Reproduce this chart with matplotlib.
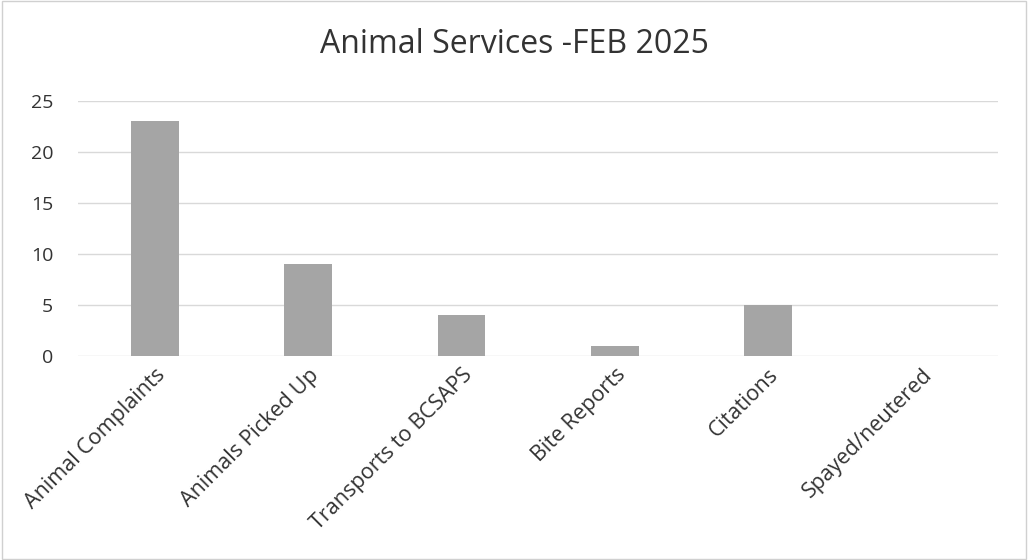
import matplotlib
matplotlib.use("Agg")
import matplotlib.pyplot as plt
import numpy as np

# data
categories = ["Animal Complaints", "Animals Picked Up", "Transports to BCSAPS",
              "Bite Reports", "Citations", "Spayed/neutered"]
counts = [23, 9, 4, 1, 5, 0]
yticks = [0, 5, 10, 15, 20, 25]

plt.rcParams["font.family"] = ["Open Sans", "DejaVu Sans"]

fig = plt.figure(figsize=(10.28, 5.6), dpi=100)
ax = fig.add_axes([0.076, 0.364, 0.895, 0.456])

x = np.arange(len(categories))
ax.bar(x, counts, width=0.31, color="#a5a5a5", zorder=3)

ax.set_xlim(-0.5, len(categories) - 0.5)
ax.set_ylim(0, 25)
ax.set_yticks(yticks)
ax.yaxis.grid(True, color="#d9d9d9", linewidth=1, zorder=0)
ax.tick_params(axis="both", length=0, labelsize=14, colors="#333333")
ax.tick_params(axis="y", pad=18)
ax.tick_params(axis="x", pad=6, labelsize=15.5)
ax.set_xticks(x)
ax.set_xticklabels(categories, rotation=45, ha="right", rotation_mode="anchor")
for s in ax.spines.values():
    s.set_visible(False)

fig.suptitle("Animal Services -FEB 2025", y=0.95, fontsize=23, color="#333333")

# light frame around the chart
fig.patches.append(plt.Rectangle((0.002, 0.002), 0.996, 0.996, transform=fig.transFigure,
                                 fill=False, edgecolor="#d0d0d0", linewidth=1))

fig.savefig("out.png", dpi=100)
